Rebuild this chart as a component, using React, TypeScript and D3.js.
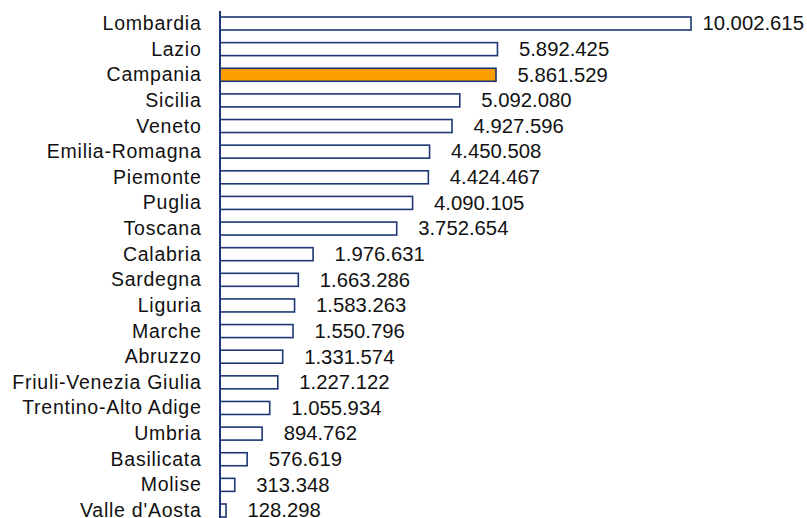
import React from "react";
import * as d3 from "d3";

const regions = [
  "Lombardia", "Lazio", "Campania", "Sicilia", "Veneto", "Emilia-Romagna", "Piemonte",
  "Puglia", "Toscana", "Calabria", "Sardegna", "Liguria", "Marche", "Abruzzo",
  "Friuli-Venezia Giulia", "Trentino-Alto Adige", "Umbria", "Basilicata", "Molise", "Valle d'Aosta",
];
const population = [
  10002615, 5892425, 5861529, 5092080, 4927596, 4450508, 4424467,
  4090105, 3752654, 1976631, 1663286, 1583263, 1550796, 1331574,
  1227122, 1055934, 894762, 576619, 313348, 128298,
];
const highlighted = ["Campania"];

const W = 807;
const H = 518;
const AXIS_X = 220;
const NAVY = "#1c3773";
const ORANGE = "#ff9e00";
const FS = 19.5;
const NUM_FS = 20.3;
const LABEL_GAP = 21.5;
const RIGHT_LIMIT = 804;

const fmt = d3.formatLocale({ decimal: ",", thousands: ".", grouping: [3], currency: ["", "€"] }).format(",d");

function estWidth(s: string, fs: number) {
  let w = 0;
  for (const c of s) w += c === "." ? 0.278 : 0.556;
  return w * fs;
}

export default function App() {
  const x = d3.scaleLinear().domain([0, 10002615]).range([AXIS_X, 691]);
  const y = d3
    .scaleBand<string>()
    .domain(regions)
    .range([10.6, 523.4])
    .paddingInner(0.493)
    .paddingOuter(0.25);
  const bw = y.bandwidth();
  return (
    <svg
      width={W}
      height={H}
      style={{ position: "absolute", left: 0, top: 0, display: "block" }}
      fontFamily="'Liberation Sans', Arial, sans-serif"
    >
      <rect x={0} y={0} width={W} height={H} fill="#ffffff" />
      {regions.map((r, i) => {
        const y0 = y(r) as number;
        const cy = y0 + bw / 2;
        const xe = x(population[i]);
        const label = fmt(population[i]);
        const tw = estWidth(label, NUM_FS);
        const tx = Math.min(xe + LABEL_GAP, RIGHT_LIMIT - tw);
        return (
          <g key={r}>
            <rect
              x={AXIS_X}
              y={y0}
              width={Math.max(0, xe - AXIS_X)}
              height={bw}
              fill={highlighted.includes(r) ? ORANGE : "#ffffff"}
              stroke={NAVY}
              strokeWidth={1.6}
            />
            <text
              x={201.5}
              y={cy + 6.5}
              textAnchor="end"
              fontSize={FS}
              letterSpacing={0.75}
              fill="#111"
            >
              {r}
            </text>
            <text x={tx} y={cy + 6.8} textAnchor="start" fontSize={NUM_FS} fill="#111">
              {label}
            </text>
          </g>
        );
      })}
      <line x1={AXIS_X} x2={AXIS_X} y1={11} y2={H} stroke={NAVY} strokeWidth={2} />
    </svg>
  );
}
